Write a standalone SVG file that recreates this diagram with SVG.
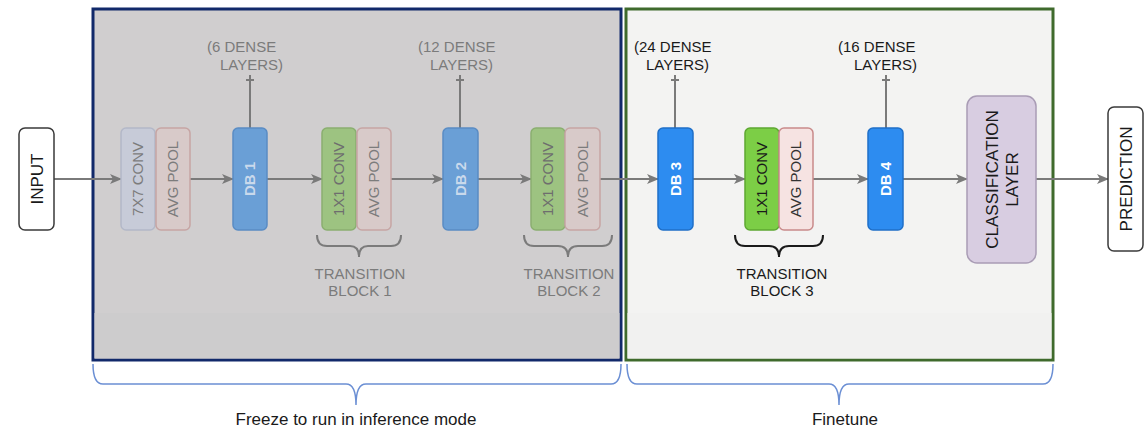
<svg xmlns="http://www.w3.org/2000/svg" width="1145" height="432" viewBox="0 0 1145 432">
<defs>
<marker id="arr" viewBox="0 0 12 10" refX="11" refY="5" markerWidth="12" markerHeight="10" markerUnits="userSpaceOnUse" orient="auto">
<path d="M0,0 L12,5 L0,10 L3,5 Z" fill="#7a7a7a"/>
</marker>
</defs>
<style>
text{font-family:"Liberation Sans",Arial,sans-serif}
.v{text-anchor:middle;font-size:15px}
.lbl{font-size:15px}
.tb{font-size:15px;text-anchor:middle}
.edge{stroke:#7a7a7a;stroke-width:2;fill:none}
.brace{fill:none;stroke-width:2}
.big{font-size:17px;fill:#1a1a1a}
</style>
<rect width="1145" height="432" fill="#ffffff"/>

<g id="frozen-region">
<rect x="93" y="9" width="528" height="351" fill="#d0cecf" stroke="#11296a" stroke-width="3"/>
<rect x="94.5" y="313" width="525" height="45.5" fill="#cdcccd"/>
</g>
<g id="finetune-region">
<rect x="626" y="9" width="427" height="351" fill="#f3f3f2" stroke="#3f6a2c" stroke-width="3"/>
<rect x="627.5" y="313" width="424" height="45.5" fill="#f1f1f0"/>
</g>

<g id="connectors">
<line class="edge" x1="54" y1="179" x2="121" y2="179" marker-end="url(#arr)"/>
<line class="edge" x1="190" y1="179" x2="233" y2="179" marker-end="url(#arr)"/>
<line class="edge" x1="267" y1="179" x2="322" y2="179" marker-end="url(#arr)"/>
<line class="edge" x1="391" y1="179" x2="443" y2="179" marker-end="url(#arr)"/>
<line class="edge" x1="478" y1="179" x2="531" y2="179" marker-end="url(#arr)"/>
<line class="edge" x1="600" y1="179" x2="658" y2="179" marker-end="url(#arr)"/>
<line class="edge" x1="693" y1="179" x2="745" y2="179" marker-end="url(#arr)"/>
<line class="edge" x1="813" y1="179" x2="868" y2="179" marker-end="url(#arr)"/>
<line class="edge" x1="903" y1="179" x2="967" y2="179" marker-end="url(#arr)"/>
<line class="edge" x1="1036" y1="179" x2="1108" y2="179" marker-end="url(#arr)"/>
<path class="edge" d="M250,128 V75 M246,80 H254"/>
<path class="edge" d="M460,128 V75 M456,80 H464"/>
<path class="edge" d="M675,128 V75 M671,80 H679"/>
<path class="edge" d="M886,128 V75 M882,80 H890"/>
</g>

<g id="input">
<rect x="19" y="128" width="35" height="102" rx="6" fill="#ffffff" stroke="#3a3a3a" stroke-width="1.5"/>
<text class="big" transform="rotate(-90 36.5 179)" x="36.5" y="179" dy="6" text-anchor="middle">INPUT</text>
</g>

<g id="conv7x7">
<rect x="121" y="128" width="34" height="102" rx="5" fill="#c7cbd8" stroke="#b3b8c8" stroke-width="1.5"/>
<text class="v" transform="rotate(-90 138 179)" x="138" y="179" dy="5" fill="#7c7c7c">7X7 CONV</text>
</g>
<g id="avgpool1">
<rect x="156" y="128" width="34" height="102" rx="5" fill="#d8cac9" stroke="#c6a5a4" stroke-width="1.5"/>
<text class="v" transform="rotate(-90 173 179)" x="173" y="179" dy="5" fill="#7c7c7c">AVG POOL</text>
</g>
<g id="db1">
<rect x="233" y="128" width="34" height="102" rx="5" fill="#6a9fd6" stroke="#5a8cc4" stroke-width="1.5"/>
<text class="v" transform="rotate(-90 250 179)" x="250" y="179" dy="5" fill="#c9d9ec" font-weight="bold">DB 1</text>
<text class="lbl" fill="#7b7b7b"><tspan x="207" y="52">(6 DENSE</tspan><tspan x="220" y="70">LAYERS)</tspan></text>
</g>
<g id="conv1x1-1">
<rect x="322" y="128" width="34" height="102" rx="5" fill="#9dc381" stroke="#8aaf70" stroke-width="1.5"/>
<text class="v" transform="rotate(-90 339 179)" x="339" y="179" dy="5" fill="#6e6e6e">1X1 CONV</text>
</g>
<g id="avgpool2">
<rect x="357" y="128" width="34" height="102" rx="5" fill="#d8cac9" stroke="#c6a5a4" stroke-width="1.5"/>
<text class="v" transform="rotate(-90 374 179)" x="374" y="179" dy="5" fill="#7c7c7c">AVG POOL</text>
</g>
<g id="tb1">
<path class="brace" stroke="#7b7b7b" d="M317,235 Q317,246 327,246 L350,246 Q359,246 359,257 Q359,246 368,246 L391,246 Q401,246 401,235"/>
<text class="tb" fill="#7b7b7b"><tspan x="360" y="279">TRANSITION</tspan><tspan x="360" y="296">BLOCK 1</tspan></text>
</g>
<g id="db2">
<rect x="443" y="128" width="35" height="102" rx="5" fill="#6a9fd6" stroke="#5a8cc4" stroke-width="1.5"/>
<text class="v" transform="rotate(-90 460.5 179)" x="460.5" y="179" dy="5" fill="#c9d9ec" font-weight="bold">DB 2</text>
<text class="lbl" fill="#7b7b7b"><tspan x="418" y="52">(12 DENSE</tspan><tspan x="430" y="70">LAYERS)</tspan></text>
</g>
<g id="conv1x1-2">
<rect x="531" y="128" width="34" height="102" rx="5" fill="#9dc381" stroke="#8aaf70" stroke-width="1.5"/>
<text class="v" transform="rotate(-90 548 179)" x="548" y="179" dy="5" fill="#6e6e6e">1X1 CONV</text>
</g>
<g id="avgpool3">
<rect x="565" y="128" width="35" height="102" rx="5" fill="#d8cac9" stroke="#c6a5a4" stroke-width="1.5"/>
<text class="v" transform="rotate(-90 582.5 179)" x="582.5" y="179" dy="5" fill="#7c7c7c">AVG POOL</text>
</g>
<g id="tb2">
<path class="brace" stroke="#7b7b7b" d="M524,235 Q524,246 534,246 L558,246 Q568,246 568,257 Q568,246 578,246 L602,246 Q612,246 612,235"/>
<text class="tb" fill="#7b7b7b"><tspan x="569" y="279">TRANSITION</tspan><tspan x="569" y="296">BLOCK 2</tspan></text>
</g>

<g id="db3">
<rect x="658" y="128" width="35" height="102" rx="5" fill="#2d8cf0" stroke="#1f6fc8" stroke-width="1.5"/>
<text class="v" transform="rotate(-90 675.5 179)" x="675.5" y="179" dy="5" fill="#ffffff" font-weight="bold">DB 3</text>
<text class="lbl" fill="#1a1a1a"><tspan x="634" y="52">(24 DENSE</tspan><tspan x="646" y="70">LAYERS)</tspan></text>
</g>
<g id="conv1x1-3">
<rect x="745" y="128" width="34" height="102" rx="5" fill="#7cce46" stroke="#5ea832" stroke-width="1.5"/>
<text class="v" transform="rotate(-90 762 179)" x="762" y="179" dy="5" fill="#1a1a1a">1X1 CONV</text>
</g>
<g id="avgpool4">
<rect x="779" y="128" width="34" height="102" rx="5" fill="#f6e3e2" stroke="#c98b8b" stroke-width="1.5"/>
<text class="v" transform="rotate(-90 796 179)" x="796" y="179" dy="5" fill="#333333">AVG POOL</text>
</g>
<g id="tb3">
<path class="brace" stroke="#1a1a1a" d="M735,235 Q735,246 745,246 L769,246 Q779,246 779,257 Q779,246 789,246 L813,246 Q823,246 823,235"/>
<text class="tb" fill="#1a1a1a"><tspan x="782" y="279">TRANSITION</tspan><tspan x="782" y="296">BLOCK 3</tspan></text>
</g>
<g id="db4">
<rect x="868" y="128" width="35" height="102" rx="5" fill="#2d8cf0" stroke="#1f6fc8" stroke-width="1.5"/>
<text class="v" transform="rotate(-90 885.5 179)" x="885.5" y="179" dy="5" fill="#ffffff" font-weight="bold">DB 4</text>
<text class="lbl" fill="#1a1a1a"><tspan x="838" y="52">(16 DENSE</tspan><tspan x="854" y="70">LAYERS)</tspan></text>
</g>
<g id="classification">
<rect x="967" y="96" width="69" height="167" rx="10" fill="#d8cde1" stroke="#a99cb5" stroke-width="1.5"/>
<text class="big" transform="rotate(-90 1001.5 179.5)" text-anchor="middle" fill="#333333"><tspan x="1001.5" y="176">CLASSIFICATION</tspan><tspan x="1001.5" y="196">LAYER</tspan></text>
</g>
<g id="prediction">
<rect x="1108" y="107" width="35" height="144" rx="6" fill="#ffffff" stroke="#3a3a3a" stroke-width="1.5"/>
<text class="big" transform="rotate(-90 1125.5 179)" x="1125.5" y="179" dy="6" text-anchor="middle">PREDICTION</text>
</g>

<g id="freeze-label">
<path fill="none" stroke="#6b8fd4" stroke-width="1.5" d="M93,364 Q93,384 103,384 L346,384 Q356,384 356,405 Q356,384 366,384 L611,384 Q621,384 621,364"/>
<text x="356" y="425" text-anchor="middle" class="big">Freeze to run in inference mode</text>
</g>
<g id="finetune-label">
<path fill="none" stroke="#6b8fd4" stroke-width="1.5" d="M627,364 Q627,384 637,384 L829,384 Q839,384 839,405 Q839,384 849,384 L1043,384 Q1053,384 1053,364"/>
<text x="845" y="425" text-anchor="middle" class="big">Finetune</text>
</g>
</svg>
